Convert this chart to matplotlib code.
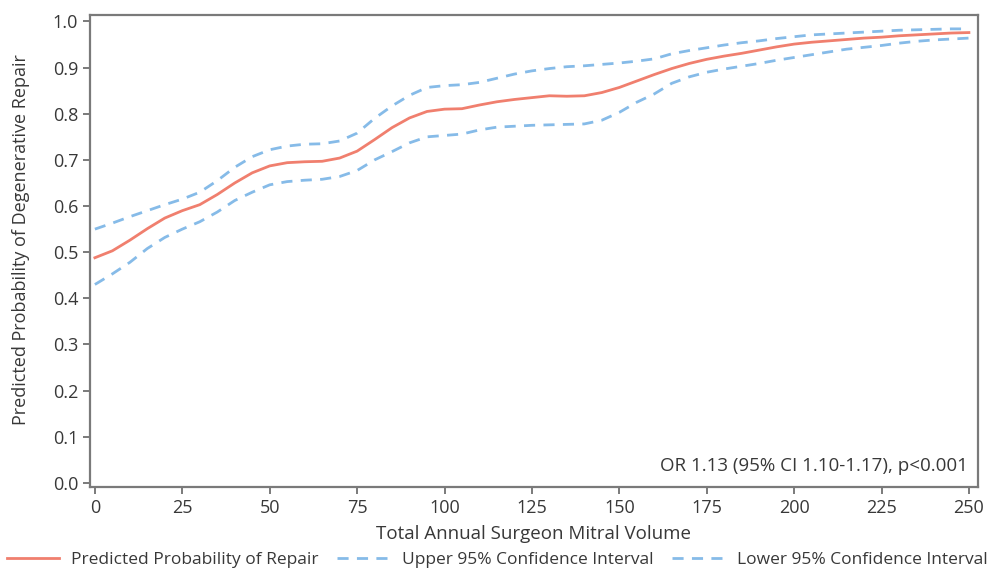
import matplotlib
matplotlib.use("Agg")
import matplotlib.pyplot as plt

plt.rcParams['font.family'] = ['Open Sans', 'DejaVu Sans']

# surgeon mitral volume (every 5) and the curves
volume = list(range(0, 251, 5))
predicted = [0.488, 0.503, 0.526, 0.551, 0.574, 0.590, 0.603, 0.625, 0.650, 0.672,
             0.687, 0.694, 0.696, 0.697, 0.704, 0.719, 0.744, 0.770, 0.791, 0.805,
             0.810, 0.811, 0.819, 0.826, 0.831, 0.835, 0.839, 0.838, 0.839, 0.846,
             0.857, 0.871, 0.885, 0.898, 0.909, 0.918, 0.925, 0.931, 0.938, 0.945,
             0.951, 0.955, 0.958, 0.961, 0.964, 0.966, 0.969, 0.971, 0.973, 0.975,
             0.976]
upper_ci = [0.550, 0.563, 0.577, 0.590, 0.603, 0.615, 0.630, 0.655, 0.684, 0.707,
            0.722, 0.730, 0.734, 0.735, 0.741, 0.758, 0.790, 0.817, 0.840, 0.857,
            0.861, 0.863, 0.868, 0.877, 0.886, 0.893, 0.898, 0.902, 0.904, 0.907,
            0.910, 0.914, 0.919, 0.930, 0.937, 0.943, 0.949, 0.954, 0.958, 0.963,
            0.967, 0.971, 0.973, 0.975, 0.977, 0.979, 0.981, 0.982, 0.983, 0.984,
            0.984]
lower_ci = [0.430, 0.453, 0.478, 0.508, 0.532, 0.550, 0.566, 0.587, 0.612, 0.630,
            0.646, 0.653, 0.656, 0.658, 0.664, 0.677, 0.700, 0.718, 0.737, 0.750,
            0.753, 0.756, 0.765, 0.771, 0.773, 0.775, 0.776, 0.777, 0.778, 0.786,
            0.803, 0.825, 0.843, 0.866, 0.880, 0.890, 0.897, 0.903, 0.909, 0.916,
            0.922, 0.928, 0.934, 0.940, 0.944, 0.948, 0.953, 0.957, 0.960, 0.962,
            0.964]

xticks = list(range(0, 251, 25))
yticks = [i / 10 for i in range(11)]

red = '#f07f6e'
blue = '#86bbe8'
grey = '#7a7a7a'
txt = '#383838'

fig = plt.figure(figsize=(10, 5.69), dpi=100)
ax = fig.add_axes([0.09, 0.144, 0.888, 0.83])

ax.plot(volume, predicted, color=red, lw=2, label='Predicted Probability of Repair')
ax.plot(volume, upper_ci, color=blue, lw=2, ls=(0, (4, 3)), label='Upper 95% Confidence Interval')
ax.plot(volume, lower_ci, color=blue, lw=2, ls=(0, (4, 3)), label='Lower 95% Confidence Interval')

ax.set_xlim(-1.4, 252.6)
ax.set_ylim(-0.009, 1.0145)
ax.set_xticks(xticks)
ax.set_xticklabels([str(t) for t in xticks])
ax.set_yticks(yticks)
ax.set_yticklabels([f'{t:.1f}' for t in yticks])

for s in ax.spines.values():
    s.set_color(grey)
    s.set_linewidth(1.6)
ax.tick_params(colors=grey, width=1.4, length=5, labelcolor=txt, labelsize=13)

ax.set_xlabel('Total Annual Surgeon Mitral Volume', fontsize=13.5, color=txt, labelpad=6)
ax.set_ylabel('Predicted Probability of Degenerative Repair', fontsize=13, color=txt)
ax.yaxis.set_label_coords(-0.068, 0.525)

ax.text(0.989, 0.025, 'OR 1.13 (95% CI 1.10-1.17), p<0.001', transform=ax.transAxes,
        ha='right', va='bottom', fontsize=13.5, color=txt)

fig.legend(loc='center', bbox_to_anchor=(0.497, 0.016), ncol=3, frameon=False,
           fontsize=12.5, handlelength=3.0, handletextpad=0.7, columnspacing=1.1,
           labelcolor=txt)

fig.savefig('out.png', dpi=100)
